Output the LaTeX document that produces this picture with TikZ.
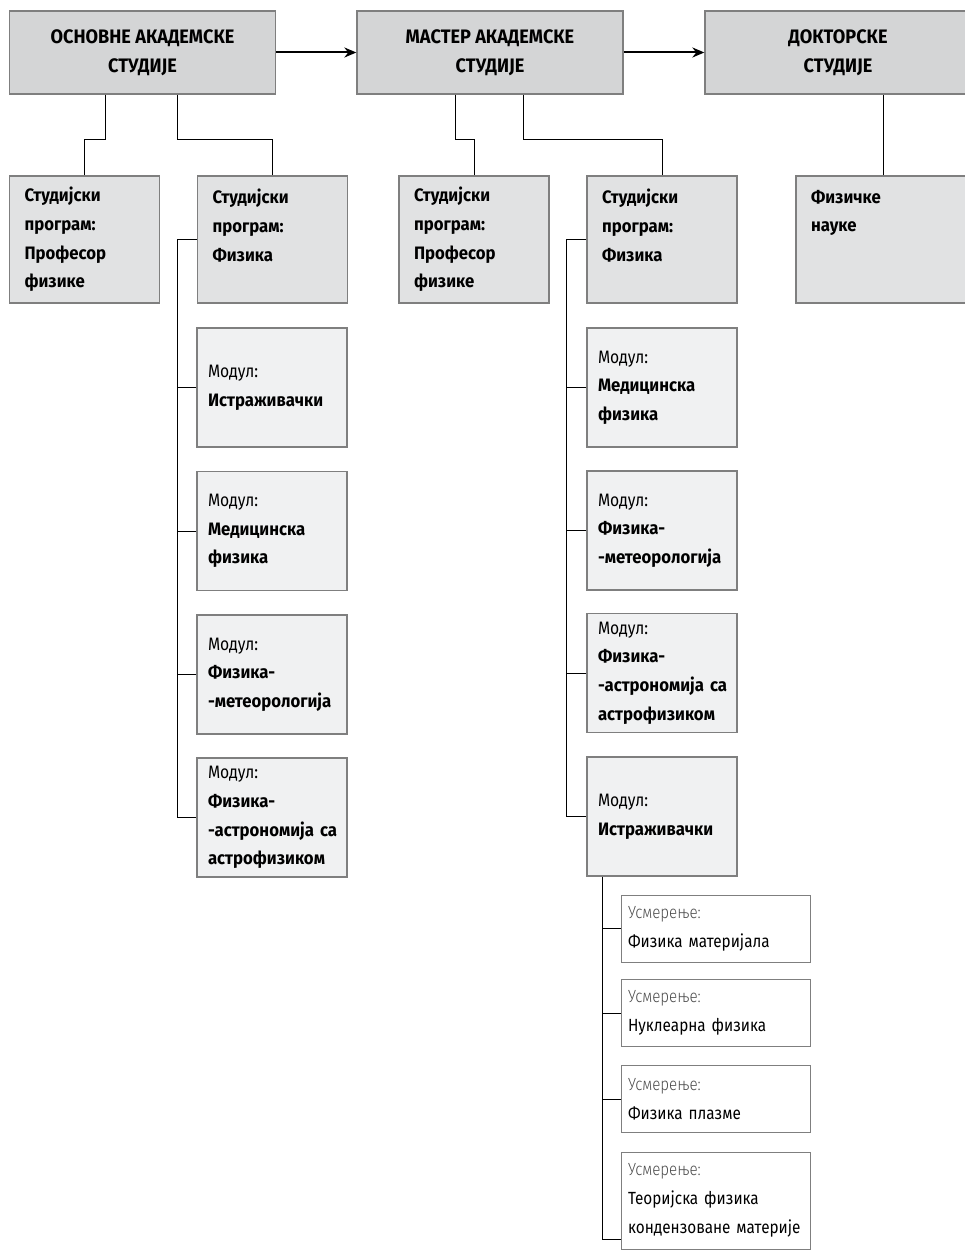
\documentclass[tikz,border=0pt]{standalone}
\usepackage{fontspec}
\setmainfont[FakeStretch=0.87, BoldFeatures={FakeStretch=0.93}]{Fira Sans}
\newfontfamily\lightfont[FakeStretch=0.86]{Fira Sans Light}
\usepackage{xcolor}
\usetikzlibrary{positioning,calc,arrows.meta}

\definecolor{headfill}{HTML}{D4D5D6}
\definecolor{progfill}{HTML}{E1E2E3}
\definecolor{modfill}{HTML}{F0F1F2}
\definecolor{boxline}{HTML}{7F7F7F}

\tikzset{
  level/.style={draw=boxline, line width=1.3pt, fill=headfill, minimum width=266pt,
    minimum height=83pt, inner sep=0pt, align=center,
    font=\bfseries\fontsize{19.5}{29}\selectfont},
  program/.style={draw=boxline, line width=1.3pt, fill=progfill, minimum height=127pt,
    inner xsep=15pt, text width=120pt, align=left,
    font=\bfseries\fontsize{18}{28.7}\selectfont},
  modul/.style={draw=boxline, line width=1.1pt, fill=modfill, minimum height=119pt,
    inner xsep=11pt, text width=128pt, align=left, font=\fontsize{18}{28.7}\selectfont},
  smer/.style={draw=boxline, line width=1pt, fill=white, minimum height=67pt,
    inner xsep=7pt, text width=175pt, align=left, font=\fontsize{17.6}{28.7}\selectfont},
  link/.style={line width=1pt},
}
\newcommand{\modl}{Модул:\\}
\newcommand{\smr}{{\lightfont\color{black!70}Усмерење:}\\}

\begin{document}
\begin{tikzpicture}[x=1pt, y=-1pt]
    \useasboundingbox (0,0) rectangle (964,1252);

    % levels of study
    \node[level] (osn) at (142.5,52.5) {ОСНОВНЕ АКАДЕМСКЕ\\СТУДИЈЕ};
    \node[level] (mas) at (490,52.5) {МАСТЕР АКАДЕМСКЕ\\СТУДИЈЕ};
    \node[level] (dok) at (838,52.5) {ДОКТОРСКЕ\\СТУДИЈЕ};
    \draw[-{Stealth[length=12pt,width=10pt]}, line width=2pt] (osn) -- (mas);
    \draw[-{Stealth[length=12pt,width=10pt]}, line width=2pt] (mas) -- (dok);

    % study programs
    \node[program] (prof1) at (84.5,239.5) {Студијски\\програм:\\Професор\\физике};
    \node[program] (fiz1) at (272.5,239.5) {Студијски\\програм:\\Физика\\\mbox{}};
    \node[program] (prof2) at (474,239.5) {Студијски\\програм:\\Професор\\физике};
    \node[program] (fiz2) at (662,239.5) {Студијски\\програм:\\Физика\\\mbox{}};
    \node[program, text width=144pt] (nauke) at (883,239.5) {Физичке\\науке\\\mbox{}\\\mbox{}};

    \draw[link] (osn.south west) ++(97,0) -- ++(0,45) -| (prof1.north);
    \draw[link] (osn.south west) ++(169,0) -- ++(0,45) -| (fiz1.north);
    \draw[link] (mas.south west) ++(99,0) -- ++(0,45) -| (prof2.north);
    \draw[link] (mas.south west) ++(167,0) -- ++(0,45) -| (fiz2.north);
    \draw[link] (nauke.north) -- (nauke.north |- dok.south);

    % modules, basic studies
    \node[modul] (om1) at (272,387.5) {\modl\textbf{Истраживачки}};
    \node[modul] (om2) at (272,531) {\modl\textbf{Медицинска\\физика}};
    \node[modul] (om3) at (272,674.5) {\modl\textbf{Физика-\\-метеорологија}};
    \node[modul] (om4) at (272,817.5) {\modl\textbf{Физика-\\\mbox{-астрономија са}\\астрофизиком}};

    \draw[link] (fiz1.west) -- ++(-19,0) |- (om4.west);
    \foreach \m in {om1,om2,om3}
        \draw[link] (\m.west) -- ++(-19,0);

    % modules, master studies
    \node[modul] (mm1) at (662,387.5) {\modl\textbf{Медицинска\\физика}};
    \node[modul] (mm2) at (662,530.5) {\modl\textbf{Физика-\\-метеорологија}};
    \node[modul] (mm3) at (662,673) {\modl\textbf{Физика-\\\mbox{-астрономија са}\\астрофизиком}};
    \node[modul] (mm4) at (662,816.5) {\modl\textbf{Истраживачки}};

    \draw[link] (fiz2.west) -- ++(-20,0) |- (mm4.west);
    \foreach \m in {mm1,mm2,mm3}
        \draw[link] (\m.west) -- ++(-20,0);

    % research directions
    \node[smer] (sm1) at (715.5,928.5) {\smr Физика материјала};
    \node[smer] (sm2) at (715.5,1013) {\smr Нуклеарна физика};
    \node[smer] (sm3) at (715.5,1099) {\smr Физика плазме};
    \node[smer, minimum height=97pt] (sm4) at (715.5,1200.5) {\smr Теоријска физика\\\mbox{кондензоване материје}};

    \coordinate (sm4in) at ($(sm4.south west)+(0,-10)$);
    \draw[link] (mm4.south west) ++(16,0) |- (sm4in);
    \foreach \s in {sm1,sm2,sm3}
        \draw[link] (\s.west) -- ++(-18,0);
\end{tikzpicture}
\end{document}
